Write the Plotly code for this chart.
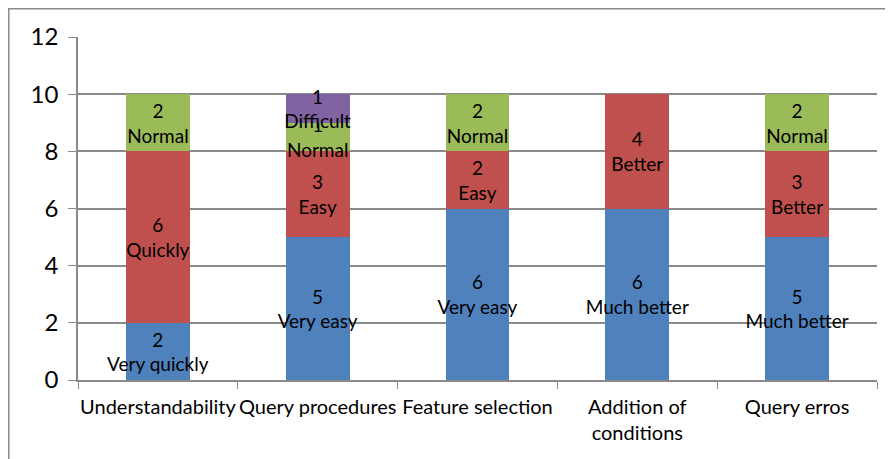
import plotly.graph_objects as go

categories = ["Understandability", "Query procedures", "Feature selection",
              "Addition of<br>conditions", "Query erros"]

blue_vals = [2, 5, 6, 6, 5]
blue_names = ["Very quickly", "Very easy", "Very easy", "Much better", "Much better"]
red_vals = [6, 3, 2, 4, 3]
red_names = ["Quickly", "Easy", "Easy", "Better", "Better"]
green_vals = [2, 1, 2, None, 2]
green_names = ["Normal", "Normal", "Normal", "", "Normal"]
purple_vals = [None, 1, None, None, None]
purple_names = ["", "Difficult", "", "", ""]

y_ticks = [0, 2, 4, 6, 8, 10, 12]

FONT = "Lato"
series = [
    (blue_vals, blue_names, "#4F81BD"),
    (red_vals, red_names, "#C0504D"),
    (green_vals, green_names, "#9BBB59"),
    (purple_vals, purple_names, "#8064A2"),
]

fig = go.Figure()
for vals, names, color in series:
    texts = [f"{v}<br>{n}" if v is not None else "" for v, n in zip(vals, names)]
    fig.add_trace(go.Bar(
        x=categories, y=vals, text=texts, textposition="inside",
        insidetextanchor="middle", constraintext="none", textangle=0,
        textfont=dict(family=FONT, size=19, color="black"),
        marker=dict(color=color, line=dict(width=0)),
        hoverinfo="skip", showlegend=False,
    ))

# page body has an 8px margin, so the figure is offset by 8px in the window
fig.update_layout(
    barmode="stack", bargap=0.6,
    width=893, height=459,
    margin=dict(l=70, r=24, t=29, b=87, autoexpand=False),
    paper_bgcolor="white", plot_bgcolor="white",
    font=dict(family=FONT, size=20, color="black"),
    shapes=[dict(type="rect", xref="paper", yref="paper",
                 x0=-69.2 / 799, x1=1.2, y0=-0.5, y1=1 + 28.2 / 343,
                 line=dict(color="#8a8a8a", width=1.5), fillcolor="rgba(0,0,0,0)",
                 layer="below")],
)
fig.update_xaxes(
    showline=True, linecolor="#8a8a8a", linewidth=1.5,
    ticks="outside", tickson="boundaries", ticklen=7, tickcolor="#8a8a8a",
    tickfont=dict(family=FONT, size=20), tickangle=0, ticklabelstandoff=8,
    showgrid=False, automargin=False,
)
fig.update_yaxes(
    range=[0, 12], tickvals=y_ticks,
    showline=True, linecolor="#8a8a8a", linewidth=1.5,
    ticks="outside", ticklen=8, tickcolor="#8a8a8a",
    showgrid=True, gridcolor="#8a8a8a", gridwidth=1.5,
    tickfont=dict(family=FONT, size=24), ticklabelstandoff=5,
    zeroline=False, automargin=False,
)

fig.write_html("out.html")
